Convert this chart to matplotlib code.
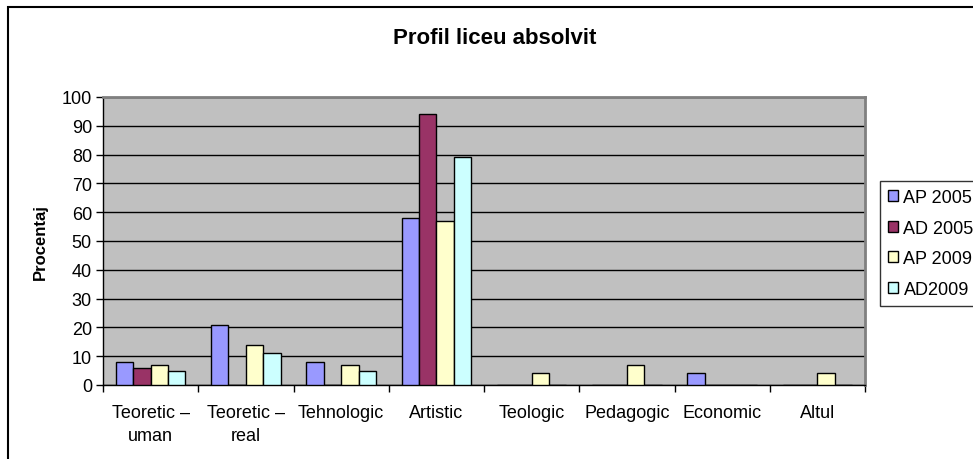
import numpy as np
import matplotlib
matplotlib.use("Agg")
import matplotlib.pyplot as plt
from matplotlib.patches import Rectangle

plt.rcParams['font.family'] = ['Liberation Sans', 'DejaVu Sans']

categories = ["Teoretic –\numan", "Teoretic –\nreal", "Tehnologic", "Artistic",
              "Teologic", "Pedagogic", "Economic", "Altul"]
series_names = ["AP 2005", "AD 2005", "AP 2009", "AD2009"]
ap_2005 = [8, 21, 8, 58, 0, 0, 4, 0]
ad_2005 = [6, 0, 0, 94, 0, 0, 0, 0]
ap_2009 = [7, 14, 7, 57, 4, 7, 0, 4]
ad_2009 = [5, 11, 5, 79, 0, 0, 0, 0]
colors = ["#9999FF", "#993366", "#FFFFCC", "#CCFFFF"]

fig = plt.figure(figsize=(9.73, 4.60), dpi=100)
ax = fig.add_axes([103 / 973, 1 - 386 / 460, 762 / 973, 288 / 460])

# outer chart frame, cut off on the right and bottom like the original
fig.patches.append(Rectangle((8 / 973, -0.1), 1.1, 1 - 8 / 460 + 0.1,
                             transform=fig.transFigure, fill=False,
                             edgecolor="black", linewidth=1.5))

x = np.arange(len(categories))
bw = 0.183
for i, (vals, name) in enumerate(zip([ap_2005, ad_2005, ap_2009, ad_2009], series_names)):
    ax.bar(x + (i - 1.5) * bw, vals, width=bw, color=colors[i], edgecolor="black",
           linewidth=1.0, label=name, zorder=3)

ax.set_facecolor("#C0C0C0")
ax.set_xlim(-0.5, len(categories) - 0.5)
ax.set_ylim(0, 100)
ax.set_yticks(range(0, 101, 10))
ax.yaxis.grid(True, color="black", linewidth=1.0, zorder=1)
ax.set_axisbelow(True)

ax.set_xticks(np.arange(-0.5, len(categories)), minor=False)
ax.set_xticklabels([])
ax.set_xticks(x, minor=True)
ax.set_xticklabels(categories, minor=True, fontsize=13, linespacing=1.45)
ax.tick_params(axis="x", which="minor", length=0, pad=14)
ax.tick_params(axis="x", which="major", length=5, direction="out", width=1)
ax.tick_params(axis="y", length=5, direction="out", width=1, labelsize=13, pad=3)

for s in ["top", "right"]:
    ax.spines[s].set_color("#808080")
    ax.spines[s].set_linewidth(2)
for s in ["left", "bottom"]:
    ax.spines[s].set_color("black")
    ax.spines[s].set_linewidth(1)

ax.set_ylabel("Procentaj", fontsize=12, fontweight="bold", labelpad=10)
fig.text(495 / 973, 1 - 39 / 460, "Profil liceu absolvit", ha="center", va="center",
         fontsize=16, fontweight="bold")

leg = ax.legend(loc="upper left", bbox_to_anchor=(880 / 973, 1 - 182 / 460),
                bbox_transform=fig.transFigure, frameon=True, fancybox=False,
                fontsize=13, handlelength=0.55, handleheight=0.55, handletextpad=0.3,
                labelspacing=0.75, borderpad=0.45, borderaxespad=0)
leg.get_frame().set_edgecolor("black")
leg.get_frame().set_linewidth(1)
for h in leg.legend_handles:
    h.set_linewidth(1)

fig.savefig("out.png", dpi=100)
